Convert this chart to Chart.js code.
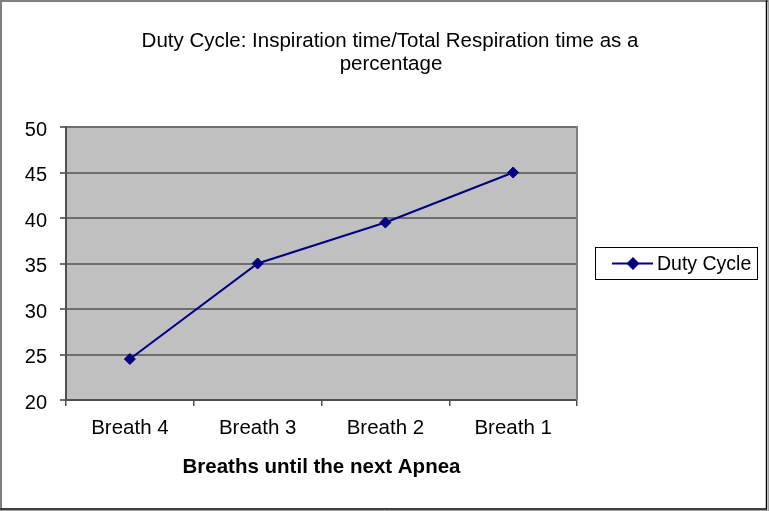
<!DOCTYPE html>
<html>
<head>
<meta charset="utf-8">
<script src="https://cdn.jsdelivr.net/npm/chart.js@4.4.1/dist/chart.umd.min.js"></script>
<style>
  html, body { margin: 0; padding: 0; background: #fff; }
  canvas { display: block; }
</style>
</head>
<body>
<canvas id="c" width="769" height="511"></canvas>
<script>
const categories = ['Breath 4', 'Breath 3', 'Breath 2', 'Breath 1'];
const dutyCycle = [24.5, 35, 39.5, 45];
const seriesName = 'Duty Cycle';
const titleLines = ['Duty Cycle: Inspiration time/Total Respiration time as a', 'percentage'];
const xAxisTitle = 'Breaths until the next Apnea';
const yMin = 20, yMax = 50, yStep = 5;

const FONT = "'Liberation Sans', Arial, sans-serif";
const NAVY = '#000080';

const decor = {
  id: 'decor',
  beforeDraw(chart) {
    const { ctx, chartArea: a } = chart;
    ctx.save();
    ctx.fillStyle = '#c0c0c0';
    ctx.fillRect(a.left, a.top, a.right - a.left, a.bottom - a.top);
    ctx.restore();
  },
  beforeDatasetsDraw(chart) {
    const { ctx, chartArea: a } = chart;
    ctx.save();
    ctx.strokeStyle = '#808080';
    ctx.lineWidth = 2;
    ctx.beginPath();
    ctx.moveTo(a.right, a.top - 1);
    ctx.lineTo(a.right, a.bottom);
    ctx.stroke();
    ctx.restore();
  },
  afterDraw(chart) {
    const { ctx } = chart;
    ctx.save();
    // title
    ctx.fillStyle = '#000';
    ctx.font = '20.5px ' + FONT;
    ctx.textAlign = 'center';
    ctx.textBaseline = 'middle';
    ctx.fillText(titleLines[0], 390, 41);
    ctx.fillText(titleLines[1], 391, 64);
    // outer border
    ctx.lineWidth = 2;
    ctx.strokeStyle = '#808080';
    ctx.beginPath();
    ctx.moveTo(1, 511); ctx.lineTo(1, 1); ctx.lineTo(769, 1);
    ctx.stroke();
    ctx.strokeStyle = '#000';
    ctx.lineWidth = 1.5;
    ctx.beginPath();
    ctx.moveTo(766.5, 0.5); ctx.lineTo(766.5, 509); ctx.lineTo(0.5, 509);
    ctx.stroke();
    ctx.strokeStyle = '#a0a0a0';
    ctx.lineWidth = 1;
    ctx.beginPath();
    ctx.moveTo(0, 510.5); ctx.lineTo(769, 510.5);
    ctx.moveTo(768.5, 0); ctx.lineTo(768.5, 511);
    ctx.stroke();
    // legend
    const ds = chart.data.datasets[0];
    ctx.lineWidth = 1;
    ctx.strokeStyle = '#000';
    ctx.fillStyle = '#fff';
    ctx.fillRect(595.5, 247.5, 162, 32);
    ctx.strokeRect(595.5, 247.5, 162, 32);
    const ly = 263.5;
    ctx.strokeStyle = ds.borderColor;
    ctx.lineWidth = 2;
    ctx.beginPath();
    ctx.moveTo(612, ly); ctx.lineTo(653, ly);
    ctx.stroke();
    ctx.fillStyle = ds.pointBackgroundColor;
    ctx.beginPath();
    const cx = 633, r = 6.5;
    ctx.moveTo(cx, ly - r); ctx.lineTo(cx + r, ly); ctx.lineTo(cx, ly + r); ctx.lineTo(cx - r, ly);
    ctx.closePath();
    ctx.fill();
    ctx.fillStyle = '#000';
    ctx.font = '19.5px ' + FONT;
    ctx.textBaseline = 'middle';
    ctx.textAlign = 'left';
    ctx.fillText(ds.label, 657, ly + 1);
    ctx.restore();
  }
};

new Chart(document.getElementById('c'), {
  type: 'line',
  data: {
    labels: categories,
    datasets: [{
      label: seriesName,
      data: dutyCycle,
      borderColor: NAVY,
      backgroundColor: NAVY,
      borderWidth: 2,
      pointStyle: 'rectRot',
      pointRadius: 5.5,
      pointHoverRadius: 5.5,
      pointBackgroundColor: NAVY,
      pointBorderColor: NAVY,
      pointBorderWidth: 1,
      tension: 0,
      fill: false
    }]
  },
  options: {
    responsive: false,
    animation: false,
    events: [],
    layout: { padding: { left: 11, right: 192, top: 127, bottom: 0 } },
    plugins: {
      legend: { display: false },
      tooltip: { enabled: false },
      title: { display: false }
    },
    scales: {
      x: {
        offset: true,
        grid: { display: true, offset: true, drawOnChartArea: false, drawTicks: true, tickLength: 6, color: '#505050', lineWidth: 1.5 },
        border: { display: true, color: '#505050', width: 2 },
        ticks: { color: '#000', font: { family: FONT, size: 20.5 }, padding: 10, maxRotation: 0, autoSkip: false },
        title: { display: true, text: xAxisTitle, color: '#000', font: { family: FONT, size: 20.5, weight: 'bold' }, padding: { top: 0, bottom: 31 } },
        afterFit(scale) { scale.height = 111; }
      },
      y: {
        min: yMin, max: yMax,
        grid: { color: '#6e6e6e', lineWidth: 2, tickLength: 6, drawTicks: true },
        border: { display: true, color: '#505050', width: 2 },
        ticks: { stepSize: yStep, color: '#000', font: { family: FONT, size: 20 }, padding: 13, labelOffset: 3 },
        afterFit(scale) { scale.width = 55; }
      }
    }
  },
  plugins: [decor]
});
</script>
</body>
</html>
